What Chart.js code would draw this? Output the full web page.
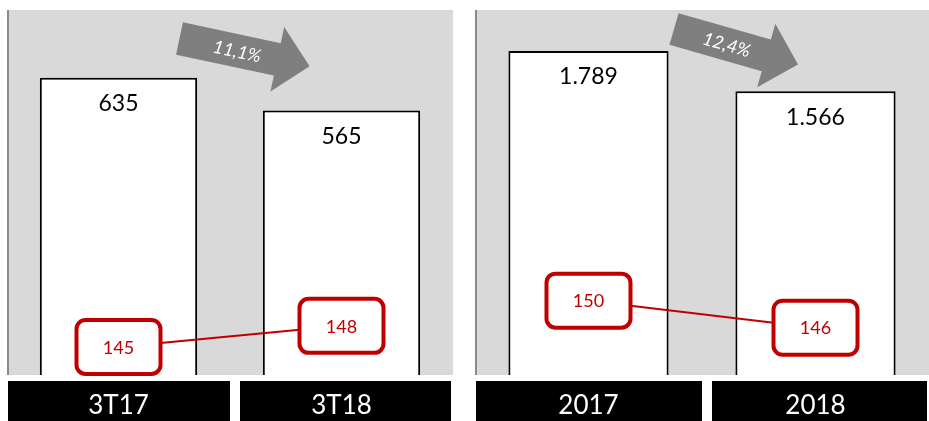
<!DOCTYPE html>
<html>
<head>
<meta charset="utf-8">
<script src="https://cdn.jsdelivr.net/npm/chart.js@4.4.1/dist/chart.umd.min.js"></script>
<style>
    body { margin: 0; background: #fff; width: 929px; height: 421px; overflow: hidden; position: relative; }
    .panel { position: absolute; top: 10px; height: 411px; }
    #leftBox { left: 7px; width: 446px; }
    #rightBox { left: 475px; width: 454px; }
</style>
</head>
<body>
<div class="panel" id="leftBox"><canvas id="leftChart"></canvas></div>
<div class="panel" id="rightBox"><canvas id="rightChart"></canvas></div>
<script>
// Quarter data
const quarterLabels = ['3T17', '3T18'];
const quarterTotals = [635, 565];
const quarterRed = [145, 148];
const quarterChange = '11,1%';

// Year data
const yearLabels = ['2017', '2018'];
const yearTotals = [1789, 1566];
const yearRed = [150, 146];
const yearChange = '12,4%';

const RED = '#c00000';
const FONT = 'Lato, "Open Sans", sans-serif';

function fmt(v) {
    return String(v).replace(/\B(?=(\d{3})+(?!\d))/g, '.');
}

function roundRect(ctx, x, y, w, h, r) {
    ctx.beginPath();
    ctx.moveTo(x + r, y);
    ctx.arcTo(x + w, y, x + w, y + h, r);
    ctx.arcTo(x + w, y + h, x, y + h, r);
    ctx.arcTo(x, y + h, x, y, r);
    ctx.arcTo(x, y, x + w, y, r);
    ctx.closePath();
}

// Grey panel, bar labels, red boxes, arrow and black category boxes
const decorPlugin = {
    id: 'decor',
    beforeDatasetsDraw(chart) {
        const { ctx, chartArea: a } = chart;
        ctx.save();
        ctx.fillStyle = '#d9d9d9';
        ctx.fillRect(a.left, a.top, a.right - a.left, a.bottom - a.top);
        ctx.fillStyle = '#898989';
        ctx.fillRect(a.left, a.top, 2, a.bottom - a.top);
        ctx.restore();
    },
    afterDatasetsDraw(chart, args, opts) {
        const { ctx, chartArea: a } = chart;
        const barMeta = chart.getDatasetMeta(1);
        const lineMeta = chart.getDatasetMeta(0);
        ctx.save();

        // values on top of the bars
        ctx.fillStyle = '#000';
        ctx.font = '23px ' + FONT;
        ctx.textAlign = 'center';
        ctx.textBaseline = 'middle';
        barMeta.data.forEach((bar, i) => {
            ctx.fillText(fmt(chart.data.datasets[1].data[i]), bar.x, bar.y + 26);
        });

        // red rounded boxes
        lineMeta.data.forEach((pt, i) => {
            const w = 84, h = 54;
            roundRect(ctx, pt.x - w / 2, pt.y - h / 2, w, h, 9);
            ctx.fillStyle = '#fff';
            ctx.fill();
            ctx.lineWidth = 4;
            ctx.strokeStyle = RED;
            ctx.stroke();
            ctx.fillStyle = RED;
            ctx.font = '18px ' + FONT;
            ctx.fillText(fmt(chart.data.datasets[0].data[i]), pt.x, pt.y + 1);
        });

        // grey arrow
        const ar = opts.arrow;
        ctx.translate(a.left + ar.x, a.top + ar.y);
        ctx.rotate(ar.angle * Math.PI / 180);
        const L = ar.length, bw = 16.5, hw = 33, hl = 33;
        ctx.beginPath();
        ctx.moveTo(0, -bw);
        ctx.lineTo(L - hl, -bw);
        ctx.lineTo(L - hl, -hw);
        ctx.lineTo(L, 0);
        ctx.lineTo(L - hl, hw);
        ctx.lineTo(L - hl, bw);
        ctx.lineTo(0, bw);
        ctx.closePath();
        ctx.fillStyle = '#7f7f7f';
        ctx.fill();
        ctx.fillStyle = '#fff';
        ctx.font = 'italic 18px ' + FONT;
        ctx.fillText(ar.text, ar.textAt, 1);
        ctx.restore();
    },
    afterDraw(chart) {
        const { ctx, chartArea: a } = chart;
        const x = chart.scales.x;
        const n = chart.data.labels.length;
        const step = (a.right - a.left) / n;
        const insets = [[1, 0], [10, 2]];
        ctx.save();
        chart.data.labels.forEach((lab, i) => {
            const x0 = a.left + step * i + insets[i][0];
            const x1 = a.left + step * (i + 1) - insets[i][1];
            ctx.fillStyle = '#000';
            ctx.fillRect(x0, a.bottom + 6, x1 - x0, chart.height - a.bottom - 6);
            ctx.fillStyle = '#fff';
            ctx.font = '26px ' + FONT;
            ctx.textAlign = 'center';
            ctx.textBaseline = 'middle';
            ctx.fillText(lab, x.getPixelForValue(i), a.bottom + 31);
        });
        ctx.restore();
    }
};

function makeChart(id, labels, totals, red, yMax, y1Min, y1Max, arrow) {
    return new Chart(document.getElementById(id), {
        type: 'bar',
        data: {
            labels: labels,
            datasets: [{
                type: 'line',
                data: red,
                yAxisID: 'y1',
                borderColor: RED,
                borderWidth: 2,
                pointRadius: 0,
                order: 0
            }, {
                data: totals,
                yAxisID: 'y',
                backgroundColor: '#fff',
                borderColor: '#000',
                borderWidth: 2,
                barPercentage: 0.84,
                categoryPercentage: 0.84,
                order: 1
            }]
        },
        options: {
            responsive: true,
            maintainAspectRatio: false,
            animation: false,
            layout: { padding: { left: 0, right: 0, top: 0, bottom: 46 } },
            plugins: {
                legend: { display: false },
                tooltip: { enabled: false },
                decor: { arrow: arrow }
            },
            scales: {
                x: { display: false },
                y: { display: false, min: 0, max: yMax },
                y1: { display: false, min: y1Min, max: y1Max }
            }
        },
        plugins: [decorPlugin]
    });
}

makeChart('leftChart', quarterLabels, quarterTotals, quarterRed, 780, 141, 193,
    { x: 172.5, y: 28.5, angle: 12, length: 133, text: quarterChange, textAt: 59 });
makeChart('rightChart', yearLabels, yearTotals, yearRed, 2015, 139, 193,
    { x: 199, y: 19, angle: 16, length: 129, text: yearChange, textAt: 55 });
</script>
</body>
</html>
